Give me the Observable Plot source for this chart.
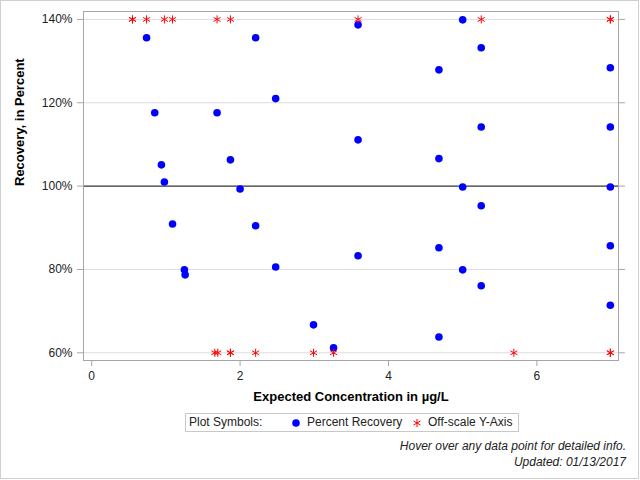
<!DOCTYPE html>
<html><head><meta charset="utf-8">
<script src="https://cdn.jsdelivr.net/npm/d3@7"></script>
<script src="https://cdn.jsdelivr.net/npm/@observablehq/plot@0.6"></script>
<style>
body{margin:0;background:#fff;font-family:"Liberation Sans",Arial,sans-serif;}
#wrap{position:relative;width:640px;height:480px;overflow:hidden;background:#fff;}
#border{position:absolute;left:0;top:0;width:639px;height:479px;box-sizing:border-box;border:1px solid #cfcfcf;pointer-events:none;}
#chart svg{display:block}
#legend{position:absolute;left:185px;top:413px;width:334px;height:19px;box-sizing:border-box;border:1px solid #c8c8c8;font-size:12px;color:#222;}
#legend span{position:absolute;top:1px;white-space:nowrap;line-height:15px;}
#legend svg{position:absolute;top:4px;}
#notes{position:absolute;right:14px;top:438px;text-align:right;font-style:italic;font-size:12px;line-height:16px;color:#222;}
</style>
</head><body>
<div id="wrap">
  <div id="chart"></div>
  <div id="legend"></div>
  <div id="notes"></div>
  <div id="border"></div>
</div>
<script>
// Percent recovery points (expected concentration, recovery %)
const recX = [0.74, 0.85, 0.94, 0.98, 1.09, 1.25, 1.26, 1.69, 1.87, 2.0, 2.21, 2.21, 2.48, 2.48, 2.99, 3.26,
  3.59, 3.59, 3.59, 4.68, 4.68, 4.68, 4.68, 5.0, 5.0, 5.0, 5.25, 5.25, 5.25, 5.25, 6.99, 6.99, 6.99, 6.99, 6.99];
const recY = [135.6, 117.6, 105.1, 101.0, 90.9, 79.9, 78.7, 117.6, 106.3, 99.3, 135.6, 90.5, 121.0, 80.6, 66.7, 61.2,
  138.7, 111.1, 83.3, 127.9, 106.6, 85.2, 63.8, 139.9, 99.8, 79.9, 133.2, 114.2, 95.3, 76.1, 128.4, 114.2, 99.8, 85.7, 71.4];
// Off-scale points (plotted at axis limits)
const offX = [0.55, 0.55, 0.74, 0.98, 1.09, 1.69, 1.87, 3.59, 5.25, 6.99, 6.99,
  1.66, 1.70, 1.87, 1.87, 2.21, 2.99, 3.26, 5.69, 6.99, 6.99];
const offY = [140, 140, 140, 140, 140, 140, 140, 140, 140, 140, 140,
  60, 60, 60, 60, 60, 60, 60, 60, 60, 60];
const xTicks = [0, 2, 4, 6];
const yTicks = [60, 80, 100, 120, 140];
const refLine = [100];
const xTitle = "Expected Concentration in µg/L";
const yTitle = "Recovery, in Percent";
const legendLabel = "Plot Symbols:";
const seriesNames = ["Percent Recovery", "Off-scale Y-Axis"];
const notes = ["Hover over any data point for detailed info.", "Updated: 01/13/2017"];

const recovery = recX.map((x, i) => ({x, y: recY[i]}));
const offscale = offX.map((x, i) => ({x, y: offY[i]}));

const chart = Plot.plot({
  width: 640, height: 412,
  marginLeft: 83, marginRight: 22, marginTop: 11, marginBottom: 52,
  style: {fontFamily: "'Liberation Sans', Arial, sans-serif", fontSize: "12px", color: "#222", background: "transparent"},
  x: {domain: [-0.11, 7.1]},
  y: {domain: [58.15, 141.9]},
  marks: [
    Plot.gridY(yTicks.filter(d => !refLine.includes(d)), {stroke: "#dcdcdc", strokeOpacity: 1}),
    Plot.ruleY(refLine, {stroke: "#000", strokeWidth: 1}),
    Plot.frame({stroke: "#a6a6a6"}),
    Plot.axisX({ticks: xTicks, tickSize: 6, tickPadding: 5, stroke: "#a6a6a6", fill: "#222", label: null, tickFormat: d3.format("d")}),
    Plot.axisY({ticks: yTicks, tickSize: 6, tickPadding: 5, stroke: "#a6a6a6", fill: "#222", label: null, tickFormat: d => d + "%"}),
    Plot.axisY({anchor: "right", ticks: yTicks, tickSize: 6, stroke: "#a6a6a6", label: null, tickFormat: () => ""}),
    Plot.dot(recovery, {x: "x", y: "y", r: 3.8, fill: "#0000ff"}),
    Plot.dot(offscale, {x: "x", y: "y", r: 3.8, symbol: "asterisk", stroke: "#ff0000", strokeWidth: 1}),
    Plot.text([xTitle], {frameAnchor: "bottom", dy: 40, text: d => d, fontWeight: "bold", fontSize: 13, fill: "#000"}),
    Plot.text([yTitle], {frameAnchor: "left", dx: -64, rotate: -90, text: d => d, fontWeight: "bold", fontSize: 13, fill: "#000"})
  ]
});
document.getElementById("chart").appendChild(chart);

// legend
const legend = document.getElementById("legend");
legend.innerHTML =
  `<span style="left:3px">${legendLabel}</span>` +
  `<svg width="10" height="10" style="left:105px"><circle cx="5" cy="5" r="3.8" fill="#0000ff"/></svg>` +
  `<span style="left:121px">${seriesNames[0]}</span>` +
  `<svg width="10" height="10" style="left:226px"><g transform="translate(5,5)" stroke="#ff0000" stroke-width="1"><path d="${d3.symbol(d3.symbolAsterisk, Math.PI * 3.8 * 3.8)()}"/></g></svg>` +
  `<span style="left:242px">${seriesNames[1]}</span>`;

document.getElementById("notes").innerHTML = notes.map(n => `<div>${n}</div>`).join("");
</script>
</body></html>
